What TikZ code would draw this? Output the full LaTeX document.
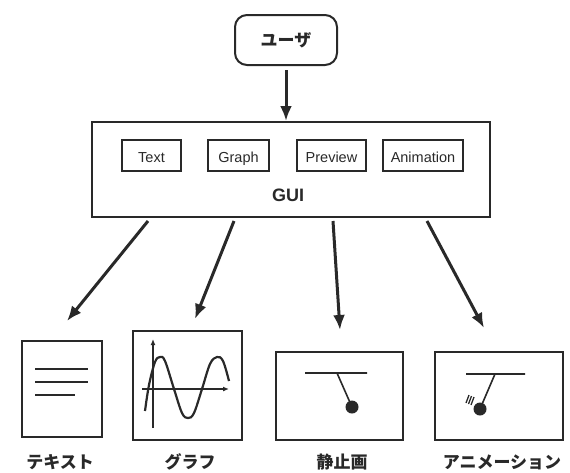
\documentclass[tikz,border=0pt]{standalone}
\usepackage{fontspec}
\setmainfont{Liberation Sans}
\newfontfamily\jpfont{Noto Sans CJK JP}
\usetikzlibrary{arrows.meta}
\definecolor{ink}{gray}{0.16}

\begin{document}
\begin{tikzpicture}[x=1pt, y=-1pt]
      \tikzstyle{every node}=[draw=ink, line width=2pt, inner sep=0pt, text=ink]
      \tikzstyle{lbl}=[draw=none, font=\jpfont\bfseries\fontsize{17}{17}\selectfont]
      \tikzstyle{flow}=[draw=ink, line width=3pt, -{Latex[length=15pt, width=12pt]}]
      \tikzstyle{axis}=[draw=ink, line width=1.3pt, -{Latex[length=6pt, width=5pt]}]
      \useasboundingbox (0,0) rectangle (570,472);

      \path (286,40) node[lbl, draw=ink, rounded corners=12pt,
        minimum width=102pt, minimum height=50pt] (user) {ユーザ};

      \path (291,169.5) node[minimum width=398pt, minimum height=95pt] (gui) {};
      \path (288,195) node[draw=none, font=\bfseries\fontsize{18}{18}\selectfont] (guilbl) {GUI};

      \foreach \x/\w/\t [count=\i] in {151.5/59/Text, 238.5/61/Graph,
        331.5/69/Preview, 423/80/Animation}
      {
        \path (\x,155.5) node[minimum width=\w pt, minimum height=31pt,
          text height=14pt, text depth=0pt,
          font=\fontsize{14.5}{14.5}\selectfont] (b\i) {\t};
      }

      % output panels
      \path (62,389) node[minimum width=80pt, minimum height=96pt] (p1) {};
      \path (187.5,385.5) node[minimum width=109pt, minimum height=109pt, line width=2.5pt] (p2) {};
      \path (339.5,396) node[minimum width=127pt, minimum height=88pt] (p3) {};
      \path (499,396) node[minimum width=128pt, minimum height=88pt] (p4) {};

      \foreach \x/\t [count=\i] in {60/テキスト, 190/グラフ, 342/静止画, 502/アニメーション}
      {
        \path (\x,462) node[lbl] (l\i) {\t};
      }

      \draw[flow, shorten <=4pt] (user.south) -- (user.south |- gui.north);

      \foreach \sx/\ex/\ey [count=\i] in {148/67/321, 234/195/319, 333/340/330, 427/484/328}
      {
        \coordinate (from\i) at (\sx,221);
        \coordinate (to\i) at (\ex,\ey);
        \draw[flow] (from\i) -- (to\i);
      }

      % text page
      \draw[ink, line width=1.6pt]
        (35,369) -- (88,369)
        (35,382) -- (88,382)
        (35,395) -- (75,395);

      % graph
      \draw[axis] (153,428) -- (153,339);
      \draw[axis] (142,389) -- (229,389);
      \draw[ink, line width=2.2pt] plot[smooth, tension=0.6] coordinates {
        (145,411) (149,385) (155,362) (160,357) (165,361) (174,389)
        (182,413) (188,418) (194,413) (202,389) (210,364) (217,357)
        (223,361) (229,381)};

      % pendulum, still
      \draw[ink, line width=1.6pt]
        (305,373) -- (367,373)
        (337,373) -- (352,407);
      \fill[ink] (352,407) circle (6.5);

      % pendulum, moving
      \draw[ink, line width=1.6pt]
        (466,374) -- (525,374)
        (495,374) -- (480,409);
      \fill[ink] (480,409) circle (6.5);
      \foreach \k in {0, 1, 2}
      {
        \draw[ink, line width=1.3pt] (466+2.5*\k,403+\k) -- (469+2.5*\k,395+\k);
      }
\end{tikzpicture}
\end{document}
